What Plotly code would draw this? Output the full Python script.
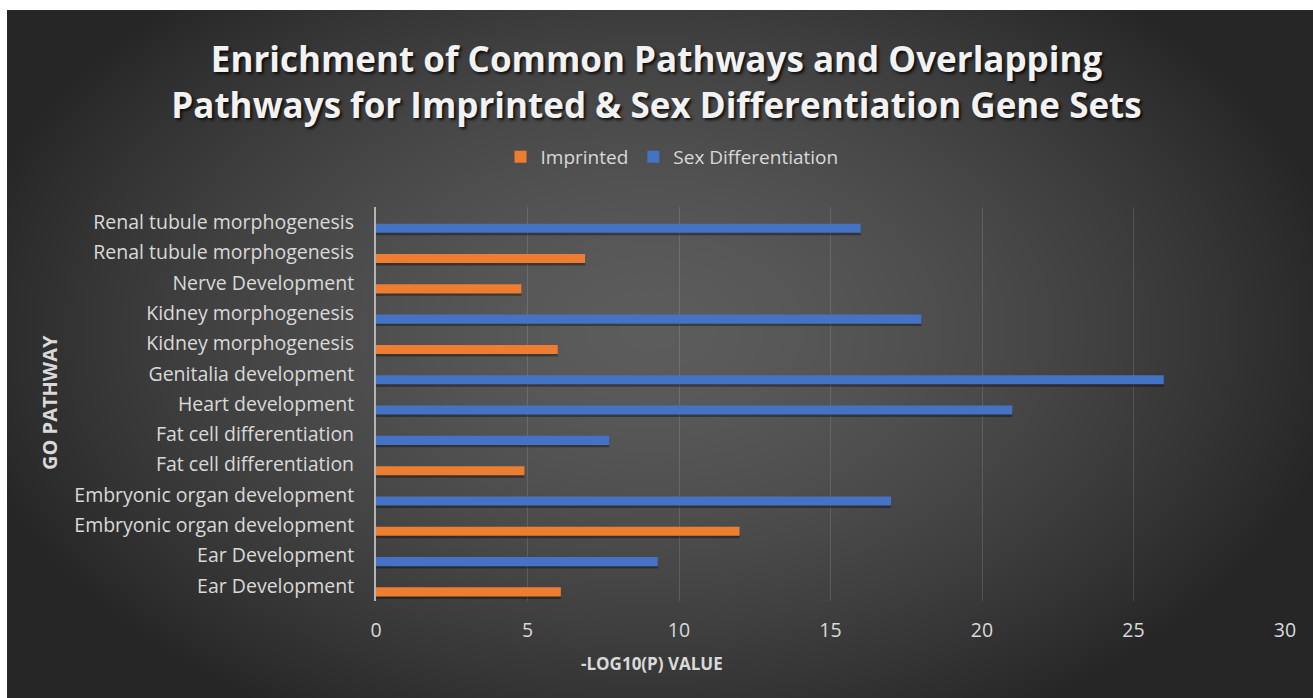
import base64
import struct
import zlib

import numpy as np
import plotly.graph_objects as go

# ---------------- data (top row first, as read in the chart) ----------------
pathways = [
    "Renal tubule morphogenesis",
    "Renal tubule morphogenesis",
    "Nerve Development",
    "Kidney morphogenesis",
    "Kidney morphogenesis",
    "Genitalia development",
    "Heart development",
    "Fat cell differentiation",
    "Fat cell differentiation",
    "Embryonic organ development",
    "Embryonic organ development",
    "Ear Development",
    "Ear Development",
]
gene_sets = [
    "Sex Differentiation",
    "Imprinted",
    "Imprinted",
    "Sex Differentiation",
    "Imprinted",
    "Sex Differentiation",
    "Sex Differentiation",
    "Sex Differentiation",
    "Imprinted",
    "Sex Differentiation",
    "Imprinted",
    "Sex Differentiation",
    "Imprinted",
]
neg_log10_p = [16.0, 6.9, 4.8, 18.0, 6.0, 26.0, 21.0, 7.7, 4.9, 17.0, 12.0, 9.3, 6.1]
series_order = ["Imprinted", "Sex Differentiation"]
series_colors = {"Imprinted": "#ED7D31", "Sex Differentiation": "#4472C4"}
x_ticks = [0, 5, 10, 15, 20, 25, 30]

# ---------------- geometry ----------------
W, H = 1313, 698
ML, MR, MT, MB = 376, 28, 207, 97
PW, PH = W - ML - MR, H - MT - MB
FONT = "Open Sans"
TXT = "#d9d9d9"

n = len(pathways)
rows = list(range(n - 1, -1, -1))  # row positions, top row highest


# ---------------- radial gradient background as PNG ----------------
def png_uri(arr):
    h, w, _ = arr.shape
    raw = b"".join(b"\x00" + arr[r].tobytes() for r in range(h))

    def chunk(tag, data):
        return (struct.pack(">I", len(data)) + tag + data
                + struct.pack(">I", zlib.crc32(tag + data) & 0xFFFFFFFF))

    png = (b"\x89PNG\r\n\x1a\n"
           + chunk(b"IHDR", struct.pack(">IIBBBBB", w, h, 8, 2, 0, 0, 0))
           + chunk(b"IDAT", zlib.compress(raw, 9))
           + chunk(b"IEND", b""))
    return "data:image/png;base64," + base64.b64encode(png).decode()


bx0, by0 = 7, 10
bw, bh = W - bx0, H - by0
yy, xx = np.mgrid[0:bh, 0:bw].astype(float)
cx, cy = 650 - bx0, 330 - by0
t = np.sqrt(((xx - cx) / 700.0) ** 2 + ((yy - cy) / 450.0) ** 2)
t = np.clip(t, 0, 1) ** 1.5
inner, outer = 0x5C, 0x26
g = (inner + (outer - inner) * t).round().astype(np.uint8)
bg = np.dstack([g, g, g])
bg_uri = png_uri(bg)

# ---------------- figure ----------------
fig = go.Figure()

# subtle drop shadows
for s in series_order:
    ys = [rows[i] for i in range(n) if gene_sets[i] == s]
    xs = [neg_log10_p[i] for i in range(n) if gene_sets[i] == s]
    fig.add_trace(go.Bar(
        x=xs, y=ys, orientation="h", width=0.3, offset=-0.43,
        marker=dict(color="rgba(0,0,0,0.35)", line=dict(width=0)),
        showlegend=False, hoverinfo="skip",
    ))

for s in series_order:
    ys = [rows[i] for i in range(n) if gene_sets[i] == s]
    xs = [neg_log10_p[i] for i in range(n) if gene_sets[i] == s]
    fig.add_trace(go.Bar(
        x=xs, y=ys, orientation="h", name=s, width=0.3, offset=-0.35,
        marker=dict(color=series_colors[s], line=dict(width=0)),
    ))

fig.update_layout(
    width=W, height=H,
    margin=dict(l=ML, r=MR, t=MT, b=MB, pad=0),
    paper_bgcolor="white",
    plot_bgcolor="rgba(0,0,0,0)",
    barmode="overlay",
    font=dict(family=FONT, color=TXT, size=19),
    title=dict(
        text="Enrichment of Common Pathways and Overlapping<br>"
             "Pathways for Imprinted & Sex Differentiation Gene Sets",
        x=0.5, xanchor="center", xref="container",
        y=1 - 72 / H, yanchor="middle", yref="container",
        font=dict(family=FONT, size=35, color="#f2f2f2", weight="bold",
                  shadow="2px 2px 3px rgba(0,0,0,0.8)"),
    ),
    legend=dict(
        orientation="h", xref="container", yref="container",
        x=672 / W, xanchor="center", y=1 - 157 / H, yanchor="middle",
        font=dict(family=FONT, size=19, color=TXT),
        bgcolor="rgba(0,0,0,0)", traceorder="normal",
        itemwidth=30,
    ),
    xaxis=dict(
        range=[0, 30], tickvals=x_ticks, ticktext=[str(v) for v in x_ticks],
        showgrid=True, gridcolor="rgba(255,255,255,0.13)", gridwidth=1,
        zeroline=False, showline=False,
        ticks="outside", ticklen=12, tickcolor="rgba(0,0,0,0)",
        tickfont=dict(family=FONT, size=19.5, color=TXT),
        fixedrange=True,
    ),
    yaxis=dict(
        range=[-0.5, n - 0.5], tickvals=rows, ticktext=pathways,
        showgrid=False, zeroline=False,
        showline=True, linecolor="#b4b4b4", linewidth=2,
        ticks="outside", ticklen=16, tickcolor="rgba(0,0,0,0)",
        tickfont=dict(family=FONT, size=19.5, color=TXT),
        fixedrange=True,
    ),
    images=[dict(
        source=bg_uri, xref="paper", yref="paper",
        x=(bx0 - ML) / PW, y=(H - MB - by0) / PH,
        sizex=bw / PW, sizey=bh / PH,
        xanchor="left", yanchor="top", sizing="stretch", layer="below",
    )],
    annotations=[
        dict(text="<b>-LOG10(P) VALUE</b>", xref="paper", yref="paper",
             x=(652 - ML) / PW, y=(H - MB - 663) / PH,
             xanchor="center", yanchor="middle", showarrow=False,
             font=dict(family=FONT, size=17, color=TXT)),
        dict(text="<b>GO PATHWAY</b>", xref="paper", yref="paper",
             x=(49 - ML) / PW, y=(H - MB - 403) / PH, textangle=-90,
             xanchor="center", yanchor="middle", showarrow=False,
             font=dict(family=FONT, size=20, color=TXT)),
    ],
)

fig.write_html("out.html", config={"displayModeBar": False},
               post_script="document.body.style.margin='0';")
